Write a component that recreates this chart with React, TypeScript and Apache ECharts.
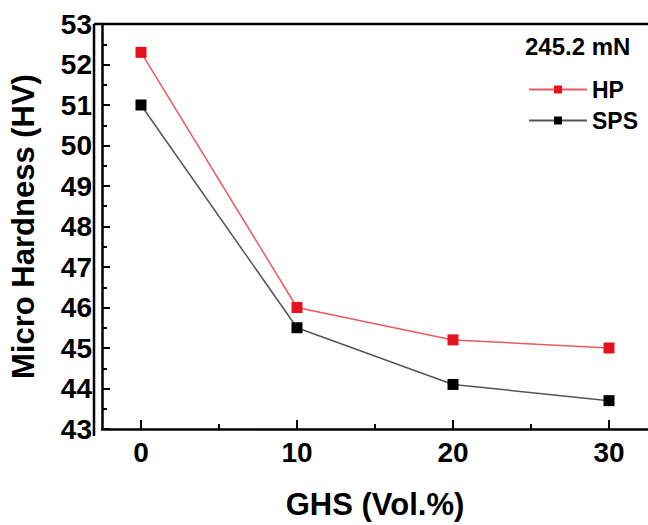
import React, { useEffect, useRef } from "react";
import * as echarts from "echarts";

const xValues = [0, 10, 20, 30];
const hpValues = [52.3, 46.0, 45.2, 45.0];
const spsValues = [51.0, 45.5, 44.1, 43.7];
const xMajorTicks = [0, 10, 20, 30];
const xMinorTicks = [5, 15, 25];
const legendTitle = "245.2 mN";
const seriesNames = ["HP", "SPS"];

const FONT = "'Liberation Sans', Arial, sans-serif";
const GRID = { left: 94, top: 24, bottom: 89, right: -8 };
const W = 648;
const H = 525;

export default function App() {
  const ref = useRef<HTMLDivElement>(null);
  useEffect(() => {
    if (!ref.current) return;
    const chart = echarts.init(ref.current, null, { renderer: "svg" });
    const hpData = xValues.map((x, i) => [x, hpValues[i]]);
    const spsData = xValues.map((x, i) => [x, spsValues[i]]);
    const baseX = {
      type: "value",
      min: -2.5,
      max: 32.5,
      splitLine: { show: false },
    };
    const frameStyle = { stroke: "#000", lineWidth: 2.5 };
    chart.setOption({
      animation: false,
      backgroundColor: "#fff",
      grid: { ...GRID, containLabel: false },
      graphic: [
        {
          type: "text",
          left: 525,
          top: 34,
          style: {
            text: legendTitle,
            font: `bold 24px ${FONT}`,
            fill: "#000",
          },
        },
        {
          type: "line",
          z: 100,
          shape: { x1: GRID.left, y1: GRID.top, x2: GRID.left, y2: H - GRID.bottom },
          style: frameStyle,
        },
        {
          type: "line",
          z: 100,
          shape: { x1: GRID.left, y1: GRID.top, x2: W, y2: GRID.top },
          style: frameStyle,
        },
      ],
      legend: {
        orient: "vertical",
        left: 523,
        top: 73,
        itemWidth: 58,
        itemHeight: 10,
        itemGap: 8,
        textStyle: {
          fontFamily: FONT,
          fontWeight: "bold",
          fontSize: 23,
          color: "#000",
        },
        data: seriesNames,
      },
      xAxis: [
        {
          ...baseX,
          position: "bottom",
          axisLine: { show: true, onZero: false, lineStyle: { color: "#000", width: 2.5 } },
          axisTick: {
            show: true,
            inside: true,
            length: 9,
            lineStyle: { color: "#000", width: 2 },
            customValues: xMajorTicks,
          },
          axisLabel: {
            customValues: xMajorTicks,
            fontFamily: FONT,
            fontWeight: "bold",
            fontSize: 28,
            color: "#000",
            margin: 9,
          },
          name: "GHS (Vol.%)",
          nameLocation: "middle",
          nameGap: 60,
          nameTextStyle: {
            fontFamily: FONT,
            fontWeight: "bold",
            fontSize: 31,
            color: "#000",
          },
        },
        {
          ...baseX,
          position: "bottom",
          offset: 0,
          axisLine: { show: false, onZero: false },
          axisTick: {
            show: true,
            inside: true,
            length: 5,
            lineStyle: { color: "#000", width: 2 },
            customValues: xMinorTicks,
          },
          axisLabel: { show: false },
        },
      ],
      yAxis: {
        type: "value",
        min: 43,
        max: 53,
        interval: 1,
        position: "left",
        axisLine: { show: true, onZero: false, lineStyle: { color: "#000", width: 2.5 } },
        axisTick: {
          show: true,
          inside: true,
          length: 8,
          lineStyle: { color: "#000", width: 2 },
        },
        minorTick: {
          show: true,
          splitNumber: 2,
          length: 5,
          lineStyle: { color: "#000", width: 2 },
        },
        axisLabel: {
          fontFamily: FONT,
          fontWeight: "bold",
          fontSize: 28,
          color: "#000",
          margin: 10,
        },
        splitLine: { show: false },
        name: "Micro Hardness (HV)",
        nameLocation: "middle",
        nameGap: 63,
        nameTextStyle: {
          fontFamily: FONT,
          fontWeight: "bold",
          fontSize: 31,
          color: "#000",
        },
      },
      series: [
        {
          name: seriesNames[0],
          type: "line",
          xAxisIndex: 0,
          data: hpData,
          symbol: "rect",
          symbolSize: 11,
          lineStyle: { color: "#ea5a5e", width: 1.5 },
          itemStyle: { color: "#e3121b" },
          z: 3,
        },
        {
          name: seriesNames[1],
          type: "line",
          xAxisIndex: 0,
          data: spsData,
          symbol: "rect",
          symbolSize: 11,
          lineStyle: { color: "#555", width: 1.5 },
          itemStyle: { color: "#000" },
          z: 2,
        },
      ],
    });
    return () => chart.dispose();
  }, []);
  return (
    <div
      ref={ref}
      style={{ position: "fixed", left: 0, top: 0, width: W, height: H }}
    />
  );
}
